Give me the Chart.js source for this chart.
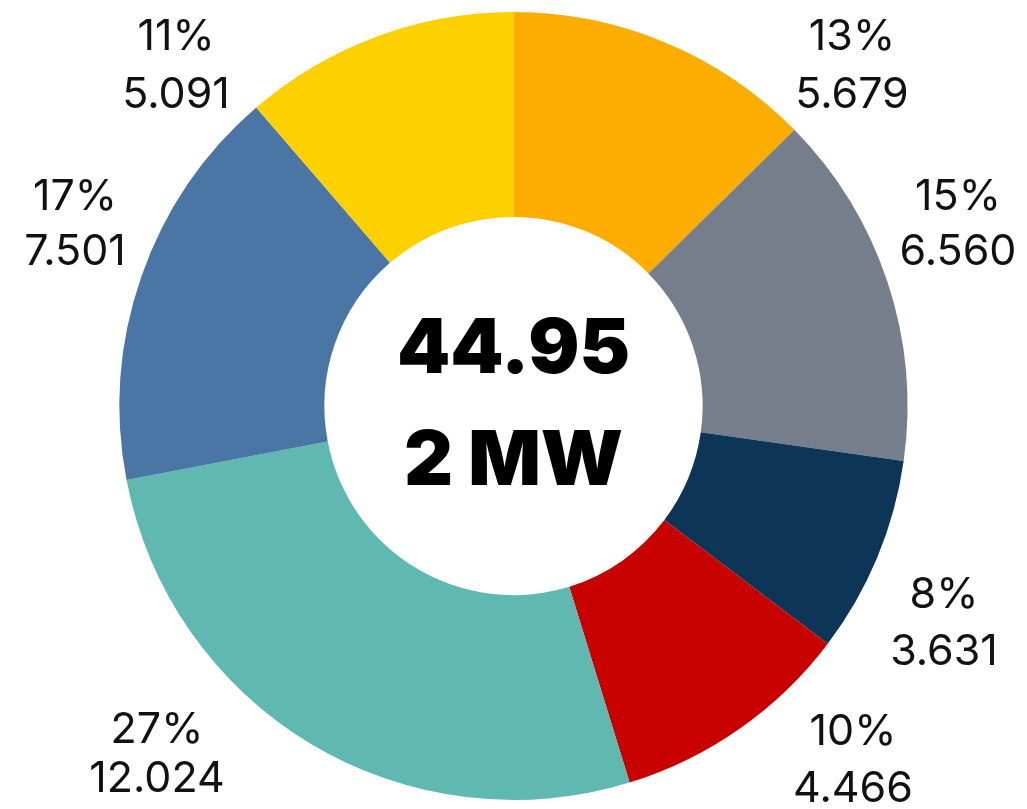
<!DOCTYPE html>
<html>
<head>
<meta charset="utf-8">
<script src="https://cdn.jsdelivr.net/npm/chart.js@4"></script>
<style>
  html, body { margin: 0; padding: 0; background: #fff; }
  #wrap { width: 1027px; height: 809px; position: relative; }
</style>
</head>
<body>
<div id="wrap"><canvas id="graficoPotenza"></canvas></div>
<script>
// valori in MW, in senso orario dall'alto
const categorie = ['A', 'B', 'C', 'D', 'E', 'F', 'G'];
const valori = [5.679, 6.560, 3.631, 4.466, 12.024, 7.501, 5.091];
const colori = ['#FDAD00', '#767E8C', '#0C3558', '#C80000', '#5FB9B1', '#4A76A6', '#FDD000'];
const testoCentro = ['44.95', '2 MW'];

// dove stanno le etichette: [x centro, baseline riga 1, baseline riga 2]
const posEtichette = [
    [852, 50, 108],
    [958, 210, 265],
    [944, 608, 665],
    [853, 745, 802],
    [157, 743, 792],
    [75, 210, 265],
    [176, 50, 108]
];

const totale = valori.reduce((a, b) => a + b, 0);

const etichettePlugin = {
    id: 'etichette',
    afterDraw(chart) {
        const ctx = chart.ctx;
        const meta = chart.getDatasetMeta(0);
        ctx.save();
        ctx.fillStyle = '#111';
        ctx.textAlign = 'center';
        ctx.textBaseline = 'alphabetic';
        ctx.font = '400 43px Inter';
        meta.data.forEach((arc, i) => {
            const p = posEtichette[i];
            const perc = Math.round(valori[i] / totale * 100) + '%';
            ctx.fillText(perc, p[0], p[1]);
            ctx.fillText(valori[i].toFixed(3), p[0], p[2]);
        });
        // testo centrale
        const c = meta.data[0];
        ctx.fillStyle = '#000';
        ctx.font = '900 76px Inter';
        ctx.fillText(testoCentro[0], c.x, c.y - 33);
        ctx.fillText(testoCentro[1], c.x, c.y + 79);
        ctx.restore();
    }
};

new Chart(document.getElementById('graficoPotenza'), {
    type: 'doughnut',
    data: {
        labels: categorie,
        datasets: [{
            data: valori,
            backgroundColor: colori,
            borderWidth: 0
        }]
    },
    options: {
        responsive: true,
        maintainAspectRatio: false,
        animation: false,
        cutout: '48%',
        layout: { padding: { top: 12, bottom: 9, left: 0, right: 0 } },
        plugins: {
            legend: { display: false },
            tooltip: { enabled: false }
        }
    },
    plugins: [etichettePlugin]
});
</script>
</body>
</html>
